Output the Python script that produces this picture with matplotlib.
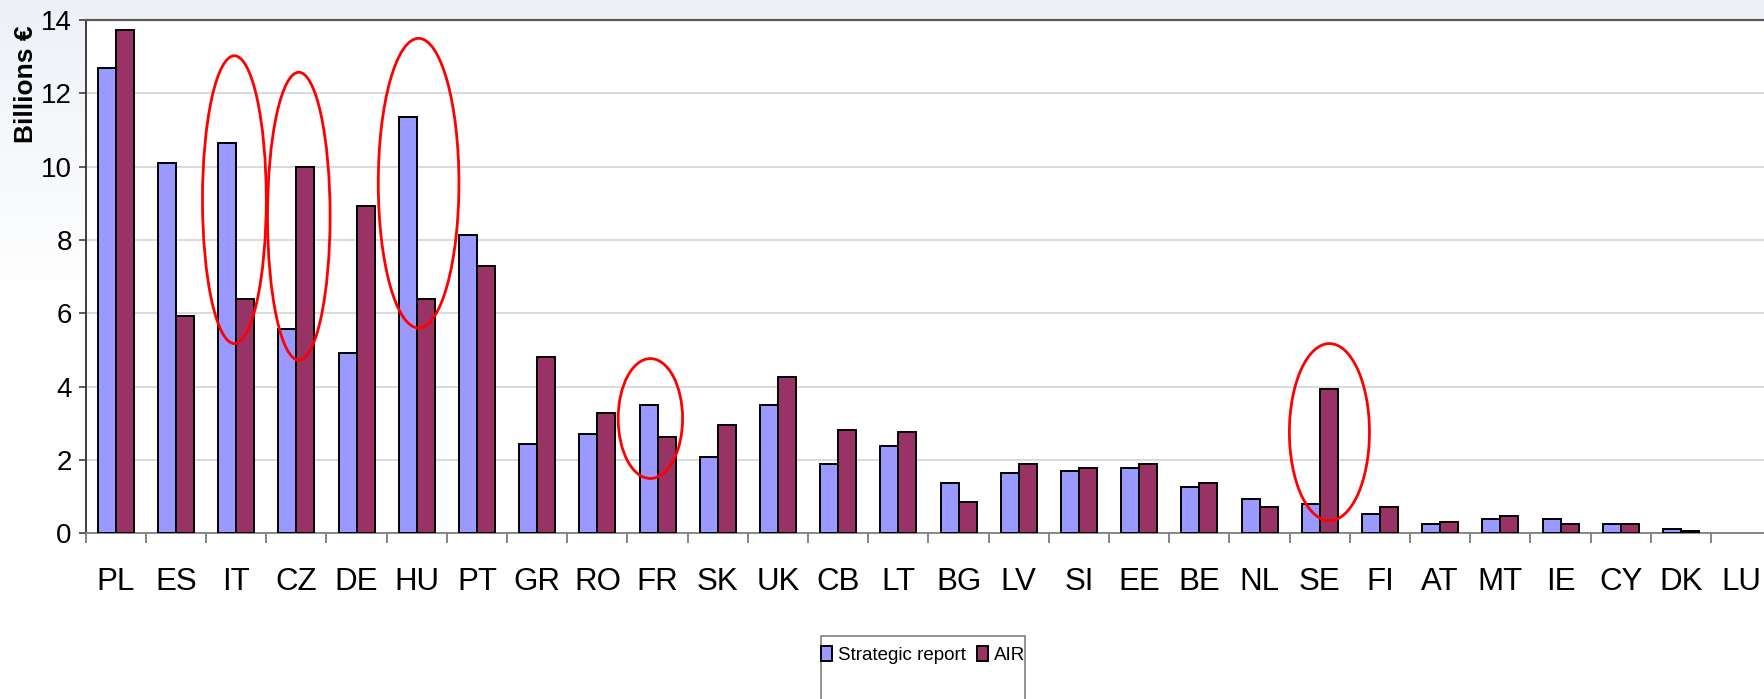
#!/usr/bin/env python3
"""Strategic report vs AIR allocations by member state, grouped bars."""

import numpy as np
import matplotlib
matplotlib.use("Agg")
import matplotlib.pyplot as plt
from matplotlib.patches import Ellipse, Rectangle, Patch

countries = ["PL", "ES", "IT", "CZ", "DE", "HU", "PT", "GR", "RO", "FR",
             "SK", "UK", "CB", "LT", "BG", "LV", "SI", "EE", "BE", "NL",
             "SE", "FI", "AT", "MT", "IE", "CY", "DK", "LU"]
strategic = [12.69, 10.11, 10.64, 5.58, 4.93, 11.36, 8.14, 2.43, 2.70, 3.49,
             2.09, 3.49, 1.90, 2.37, 1.37, 1.64, 1.70, 1.77, 1.25, 0.93,
             0.79, 0.54, 0.26, 0.40, 0.40, 0.26, 0.13, 0.0]
air = [13.73, 5.92, 6.38, 9.99, 8.93, 6.38, 7.30, 4.80, 3.29, 2.63,
       2.95, 4.27, 2.82, 2.76, 0.85, 1.90, 1.77, 1.90, 1.37, 0.73,
       3.94, 0.73, 0.32, 0.46, 0.26, 0.26, 0.07, 0.0]
series_names = ["Strategic report", "AIR"]

# red highlight rings: category, offset from its centre, y-centre, width, height
ring_cats = ["IT", "CZ", "HU", "FR", "SE"]
ring_dx = [-0.03, 0.04, 0.03, -0.12, 0.16]
ring_yc = [9.10, 8.65, 9.55, 3.13, 2.76]
ring_w = [1.06, 1.04, 1.34, 1.07, 1.33]
ring_h = [7.85, 7.85, 7.90, 3.27, 4.83]

BLUE = "#9999FF"
PLUM = "#993366"
FONT = ["Liberation Sans Narrow", "Liberation Sans", "DejaVu Sans"]

W, H, DPI = 1765, 699, 100
fig = plt.figure(figsize=(W / DPI, H / DPI), dpi=DPI)
fig.patch.set_facecolor("white")

# soft blue-grey wash at the top of the figure
bg = fig.add_axes([0, 0, 1, 1], zorder=-10)
grad = np.ones((H, 1, 3))
top = np.array([0xED, 0xF1, 0xF7]) / 255.0
fade = np.clip(np.arange(H) / 300.0, 0, 1)[:, None]
grad[:, 0, :] = top * (1 - fade) + fade
bg.imshow(grad, aspect="auto", extent=[0, 1, 0, 1], origin="upper")
bg.set_axis_off()

left_px, bottom_px, top_px, cat_px = 85.7, 533.3, 20.0, 60.2
n = len(countries)
ax = fig.add_axes([left_px / W, 1 - bottom_px / H,
                   n * cat_px / W, (bottom_px - top_px) / H])
ax.set_facecolor("white")

x = np.arange(n)
w = 0.30
# zero-valued cells draw nothing (LU)
s_vals = np.where(np.array(strategic) > 0, strategic, np.nan)
a_vals = np.where(np.array(air) > 0, air, np.nan)
ax.bar(x - w / 2, s_vals, w, color=BLUE, edgecolor="black", linewidth=1.4,
       label=series_names[0], zorder=3)
ax.bar(x + w / 2, a_vals, w, color=PLUM, edgecolor="black", linewidth=1.4,
       label=series_names[1], zorder=3)

ax.set_xlim(-0.5, n - 0.5)
ax.set_ylim(0, 14)
ax.set_yticks(np.arange(0, 15, 2))
ax.yaxis.grid(True, color="#d4d4d4", linewidth=1.2, zorder=0)
ax.set_axisbelow(True)

ax.set_xticks(x)
ax.set_xticklabels(countries, family=FONT, fontsize=22.5)
ax.set_xticks(np.arange(-0.5, n, 1), minor=True)
ax.tick_params(axis="x", which="major", length=0, pad=24)
ax.tick_params(axis="x", which="minor", length=7, width=1.2, color="#707070",
               direction="out")
ax.tick_params(axis="y", length=5, width=1.2, color="#404040", pad=5)
for lbl in ax.get_yticklabels():
    lbl.set_family(FONT)
    lbl.set_fontsize(20)

ax.spines["right"].set_visible(False)
ax.spines["top"].set_color("#5a5a5a")
ax.spines["top"].set_linewidth(1.6)
ax.spines["left"].set_color("#303030")
ax.spines["left"].set_linewidth(1.3)
ax.spines["bottom"].set_color("#808080")
ax.spines["bottom"].set_linewidth(1.3)

fig.text(26 / W, 1 - 84 / H, "Billions €", rotation=90, ha="center",
         va="center", family=["Liberation Sans", "DejaVu Sans"],
         fontweight="bold", fontsize=19)

for cat, dx, yc, ew, eh in zip(ring_cats, ring_dx, ring_yc, ring_w, ring_h):
    xc = countries.index(cat) + dx
    ax.add_patch(Ellipse((xc, yc), ew, eh, fill=False, edgecolor="red",
                         linewidth=2.0, zorder=5, clip_on=False))

# legend box runs past the bottom edge, as in the source
fig.patches.append(Rectangle((821 / W, -0.05), 204 / W, 0.05 + (H - 636) / H,
                             transform=fig.transFigure, fill=False,
                             edgecolor="#808080", linewidth=1.2))
handles = [Patch(facecolor=BLUE, edgecolor="black", linewidth=1.4),
           Patch(facecolor=PLUM, edgecolor="black", linewidth=1.4)]
fig.legend(handles, series_names, loc="center", ncol=2, frameon=False,
           bbox_to_anchor=(923 / W, 1 - 655 / H), prop={"family": FONT, "size": 13.5},
           handlelength=0.6, handleheight=0.8, handletextpad=0.3,
           columnspacing=0.6, borderpad=0.2)

fig.savefig("out.png", dpi=DPI)
